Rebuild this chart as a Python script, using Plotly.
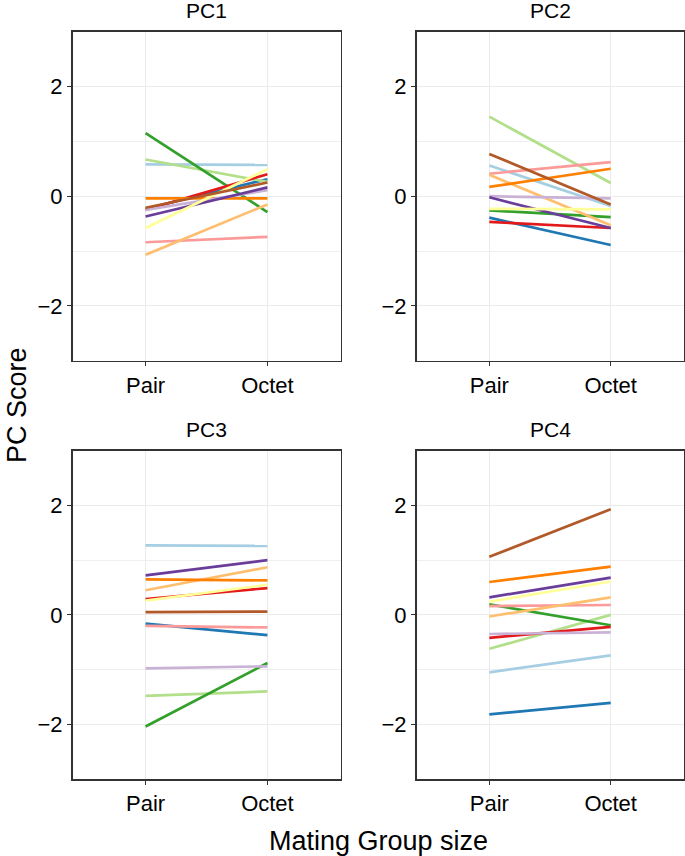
import plotly.graph_objects as go

# ---- data -------------------------------------------------------------
groups = ["Pair", "Octet"]
panels = ["PC1", "PC2", "PC3", "PC4"]
line_ids = [f"L{i}" for i in range(1, 13)]
colors = ["#A6CEE3", "#1F78B4", "#B2DF8A", "#33A02C", "#FB9A99", "#E31A1C",
          "#FDBF6F", "#FF7F00", "#CAB2D6", "#6A3D9A", "#FFFF99", "#B15928"]

pc1_pair = [0.58, -0.23, 0.67, 1.15, -0.84, -0.25, -1.07, -0.04, -0.25, -0.37, -0.58, -0.21]
pc1_octet = [0.57, 0.31, 0.26, -0.29, -0.74, 0.40, -0.15, -0.04, 0.11, 0.16, 0.49, 0.25]

pc2_pair = [0.56, -0.39, 1.45, -0.26, 0.41, -0.47, 0.39, 0.17, 0.00, -0.02, -0.23, 0.77]
pc2_octet = [-0.18, -0.89, 0.24, -0.38, 0.62, -0.58, -0.53, 0.50, -0.04, -0.58, -0.24, -0.15]

pc3_pair = [1.27, -0.16, -1.48, -2.04, -0.20, 0.29, 0.45, 0.65, -0.98, 0.72, 0.26, 0.05]
pc3_octet = [1.26, -0.37, -1.40, -0.88, -0.23, 0.49, 0.87, 0.63, -0.94, 1.00, 0.55, 0.06]

pc4_pair = [-1.05, -1.82, -0.62, 0.19, 0.16, -0.42, -0.03, 0.60, -0.35, 0.32, 0.24, 1.06]
pc4_octet = [-0.74, -1.61, 0.00, -0.19, 0.18, -0.22, 0.32, 0.88, -0.32, 0.68, 0.61, 1.93]

y_ticks = [-2, 0, 2]
y_minor = [-1, 1]

pair_vals = [pc1_pair, pc2_pair, pc3_pair, pc4_pair]
octet_vals = [pc1_octet, pc2_octet, pc3_octet, pc4_octet]

# ---- layout geometry (pixels) ------------------------------------------
W, H = 685, 856
col_px = [(72.5, 340.5), (416.5, 683.5)]
row_px = [(31.7, 360.7), (450.7, 779.0)]

FONT = "Liberation Sans, Arial, Helvetica, sans-serif"
fig = go.Figure()

for p in range(4):
    r, c = divmod(p, 2)
    ax = "" if p == 0 else str(p + 1)
    for i in range(12):
        fig.add_trace(go.Scatter(
            x=groups, y=[pair_vals[p][i], octet_vals[p][i]],
            mode="lines", line=dict(color=colors[i], width=2.7),
            name=line_ids[i], showlegend=False,
            xaxis="x" + ax, yaxis="y" + ax, hoverinfo="skip"))
    x0, x1 = col_px[c]
    y0, y1 = row_px[r]
    common = dict(showline=True, mirror=True, linecolor="#333333", linewidth=1.5,
                  ticks="outside", ticklen=4, tickwidth=1.2, tickcolor="#333333",
                  gridcolor="#EBEBEB", gridwidth=1.2, zeroline=False,
                  tickfont=dict(family=FONT, size=22, color="#000000"))
    fig.layout["xaxis" + ax] = dict(
        common, domain=[x0 / W, x1 / W], anchor="y" + ax,
        type="category", categoryorder="array", categoryarray=groups,
        range=[-0.6, 1.6])
    fig.layout["yaxis" + ax] = dict(
        common, domain=[1 - y1 / H, 1 - y0 / H], anchor="x" + ax,
        range=[-3, 3], tickvals=y_ticks,
        minor=dict(tickvals=y_minor, showgrid=True, gridcolor="#EBEBEB",
                   gridwidth=0.8, ticks=""))
    fig.add_annotation(text=panels[p], xref="paper", yref="paper",
                       x=(x0 + x1) / 2 / W, y=1 - (y0 - 21) / H,
                       xanchor="center", yanchor="middle", showarrow=False,
                       font=dict(family=FONT, size=21, color="#000000"))

fig.add_annotation(text="Mating Group size", xref="paper", yref="paper",
                   x=378 / W, y=1 - 841 / H,
                   xanchor="center", yanchor="middle",
                   showarrow=False, font=dict(family=FONT, size=27, color="#000000"))
fig.add_annotation(text="PC Score", xref="paper", yref="paper",
                   x=0, y=1 - 405 / H,
                   xanchor="left", yanchor="middle",
                   textangle=-90, showarrow=False,
                   font=dict(family=FONT, size=27, color="#000000"))

fig.update_layout(width=W, height=H, autosize=False,
                  margin=dict(l=0, r=0, t=0, b=0),
                  paper_bgcolor="white", plot_bgcolor="white")

fig.write_html("out.html",
               config={"displayModeBar": False, "staticPlot": True},
               post_script="document.body.style.margin='0px';"
                           "document.body.style.padding='0px';"
                           "document.body.style.overflow='hidden';")
